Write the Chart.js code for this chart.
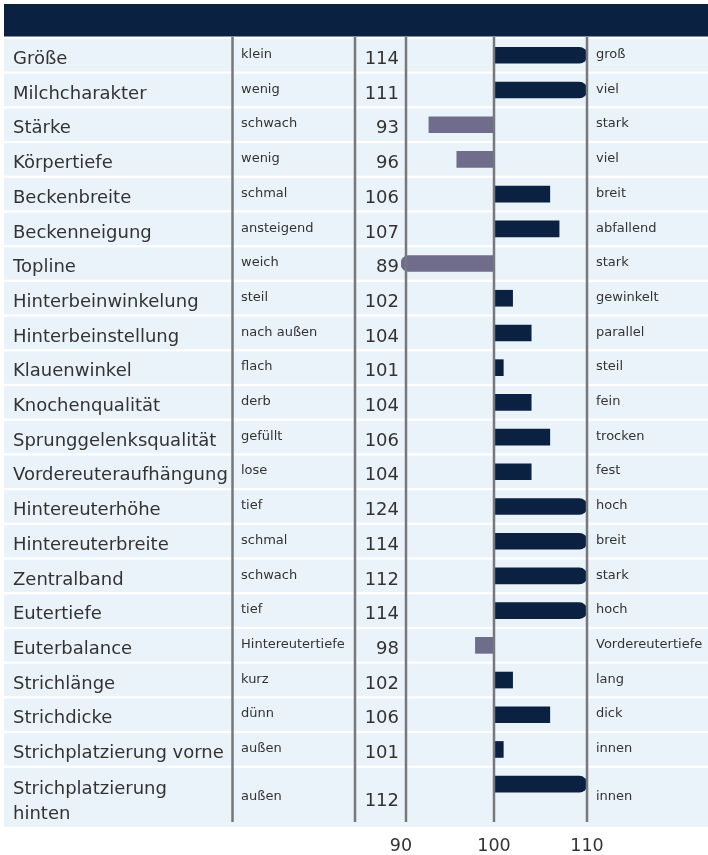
<!DOCTYPE html>
<html>
<head>
<meta charset="utf-8">
<script src="https://cdn.jsdelivr.net/npm/chart.js@4/dist/chart.umd.min.js"></script>
<style>
  html, body { margin: 0; padding: 0; background: #fff; }
</style>
</head>
<body>
<canvas id="grafica_exterieur" width="708" height="855"></canvas>
<script>
//Datos de la grafica
const merkmale = ['Größe', 'Milchcharakter', 'Stärke', 'Körpertiefe', 'Beckenbreite', 'Beckenneigung', 'Topline',
  'Hinterbeinwinkelung', 'Hinterbeinstellung', 'Klauenwinkel', 'Knochenqualität', 'Sprunggelenksqualität',
  'Vordereuteraufhängung', 'Hintereuterhöhe', 'Hintereuterbreite', 'Zentralband', 'Eutertiefe', 'Euterbalance',
  'Strichlänge', 'Strichdicke', 'Strichplatzierung vorne', ['Strichplatzierung', 'hinten']];
const links = ['klein', 'wenig', 'schwach', 'wenig', 'schmal', 'ansteigend', 'weich', 'steil', 'nach außen', 'flach',
  'derb', 'gefüllt', 'lose', 'tief', 'schmal', 'schwach', 'tief', 'Hintereutertiefe', 'kurz', 'dünn', 'außen', 'außen'];
const rechts = ['groß', 'viel', 'stark', 'viel', 'breit', 'abfallend', 'stark', 'gewinkelt', 'parallel', 'steil',
  'fein', 'trocken', 'fest', 'hoch', 'breit', 'stark', 'hoch', 'Vordereutertiefe', 'lang', 'dick', 'innen', 'innen'];
const werte = [114, 111, 93, 96, 106, 107, 89, 102, 104, 101, 104, 106, 104, 124, 114, 112, 114, 98, 102, 106, 101, 112];
const achseMin = 90;
const achseMitte = 100;
const achseMax = 110;

//Colores
const navy = '#0b2142';
const lila = '#6f6c8c';
const zeile = '#ebf3fa';
const linie = '#76787b';
const text = '#333333';

//barras: desde 100 hasta el valor, recortado a 90..110
const barras = werte.map((v, i) => ({ x: [achseMitte, Math.max(achseMin, Math.min(achseMax, v))], y: i }));

//Plugin para la tabla (fondo, textos, lineas)
const tabla = {
  id: 'tabla',
  beforeDraw(chart) {
    const c = chart.ctx;
    const ys = chart.scales.y;
    c.save();
    c.fillStyle = '#fff';
    c.fillRect(0, 0, chart.width, chart.height);
    c.fillStyle = navy;
    c.fillRect(4, 4, 704, 32.5);
    c.fillStyle = zeile;
    merkmale.forEach((m, i) => {
      const top = ys.getPixelForValue(i) - 16.3;
      const h = Array.isArray(m) ? 59 : 32.5;
      c.fillRect(4, top, 704, h);
    });
    c.restore();
  },
  afterDatasetsDraw(chart) {
    const c = chart.ctx;
    const ys = chart.scales.y;
    const xs = chart.scales.x;
    c.save();
    c.fillStyle = text;
    c.textBaseline = 'alphabetic';
    merkmale.forEach((m, i) => {
      const top = ys.getPixelForValue(i) - 16.3;
      const off = Array.isArray(m) ? 13 : 0;
      c.font = '18px "DejaVu Sans"';
      c.textAlign = 'left';
      if (Array.isArray(m)) {
        c.fillText(m[0], 13, top + 26);
        c.fillText(m[1], 13, top + 51);
      } else {
        c.fillText(m, 13, top + 25);
      }
      c.textAlign = 'right';
      c.fillText(String(werte[i]), 399, top + 25 + off);
      c.font = '13px "DejaVu Sans"';
      c.textAlign = 'left';
      c.fillText(links[i], 241, top + 19 + off);
      c.fillText(rechts[i], 596, top + 19 + off);
    });

    //lineas verticales
    c.strokeStyle = linie;
    c.lineWidth = 2.5;
    [232.5, 355, 406, xs.getPixelForValue(achseMitte), xs.getPixelForValue(achseMax)].forEach(x => {
      c.beginPath();
      c.moveTo(x, 37);
      c.lineTo(x, 822);
      c.stroke();
    });
    c.restore();
  }
};

const grafica_exterieur = document.getElementById('grafica_exterieur');

new Chart(grafica_exterieur, {
  type: 'bar',
  data: {
    datasets: [{
      data: barras,
      backgroundColor: werte.map(v => v >= achseMitte ? navy : lila),
      barThickness: 16,
      borderSkipped: false,
      borderRadius: (ctx) => {
        const v = werte[ctx.dataIndex];
        if (v > achseMax) return { topLeft: 0, bottomLeft: 0, topRight: 8, bottomRight: 8 };
        if (v < achseMin) return { topLeft: 8, bottomLeft: 8, topRight: 0, bottomRight: 0 };
        return 0;
      }
    }]
  },
  options: {
    indexAxis: 'y',
    responsive: false,
    animation: false,
    devicePixelRatio: 1,
    layout: { padding: { left: 401, right: 121, top: 37, bottom: 0 } },
    plugins: { legend: { display: false }, tooltip: { enabled: false } },
    scales: {
      x: {
        type: 'linear',
        position: 'bottom',
        min: achseMin,
        max: achseMax,
        grid: { display: false, drawTicks: false },
        border: { display: false },
        ticks: {
          stepSize: 10,
          padding: 13.5,
          color: text,
          font: { family: 'DejaVu Sans', size: 17.5 }
        },
        afterFit: (s) => { s.height = 33; }
      },
      y: {
        type: 'linear',
        reverse: true,
        offset: false,
        grace: 0,
        min: -0.527,
        max: 22.09,
        display: false,
        afterDataLimits: (s) => { s.min = -0.527; s.max = 22.09; }
      }
    }
  },
  plugins: [tabla]
});
</script>
</body>
</html>
